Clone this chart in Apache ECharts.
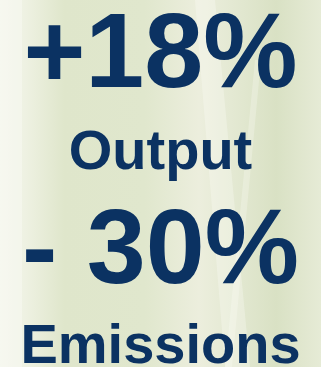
<!DOCTYPE html>
<html><head><meta charset="utf-8">
<script src="https://cdn.jsdelivr.net/npm/echarts@6/dist/echarts.min.js"></script>
<style>html,body{margin:0;padding:0;}#c{width:321px;height:367px;}</style>
</head><body><div id="c"></div>
<script>
// Data
var figures = ["+18%", "- 30%"];
var labels = ["Output", "Emissions"];

var navy = '#0b3262';
var chart = echarts.init(document.getElementById('c'), null, {renderer: 'canvas'});
var cx = 160.5;
var bigSize = 106, smallSize = 56;
var bigY = [58, 254];
var smallY = [154, 348];
var elements = [
  {type: 'rect', shape: {x: 0, y: 0, width: 321, height: 367}, silent: true,
   style: {fill: new echarts.graphic.LinearGradient(0, 0, 1, 0, [
     {offset: 0, color: '#f3f5ea'},
     {offset: 0.08, color: '#eef1e2'},
     {offset: 0.2, color: '#dfe6cb'},
     {offset: 0.45, color: '#e0e7cd'},
     {offset: 0.62, color: '#eceedd'},
     {offset: 0.72, color: '#e4e9d3'},
     {offset: 0.86, color: '#d9e1c4'},
     {offset: 1, color: '#e6ebd6'}])}},
  {type: 'polygon', silent: true, shape: {points: [[195, 0], [215, 0], [250, 367], [225, 367]]},
   style: {fill: 'rgba(255,255,250,0.28)'}},
  {type: 'polygon', silent: true, shape: {points: [[255, 60], [261, 60], [232, 367], [225, 367]]},
   style: {fill: 'rgba(255,255,250,0.25)'}},
  {type: 'rect', silent: true, shape: {x: 0, y: 0, width: 22, height: 367},
   style: {fill: 'rgba(255,255,255,0.3)'}}
];
for (var i = 0; i < figures.length; i++) {
  elements.push({type: 'text', x: cx, y: bigY[i], silent: true,
    style: {text: figures[i], fill: navy, font: 'bold ' + bigSize + 'px "Liberation Sans", Arial, sans-serif',
      textAlign: 'center', textVerticalAlign: 'middle'}});
  elements.push({type: 'text', x: cx, y: smallY[i], silent: true,
    style: {text: labels[i], fill: navy, font: 'bold ' + smallSize + 'px "Liberation Sans", Arial, sans-serif',
      textAlign: 'center', textVerticalAlign: 'middle'}});
}
chart.setOption({animation: false, graphic: {elements: elements}});
</script></body></html>
